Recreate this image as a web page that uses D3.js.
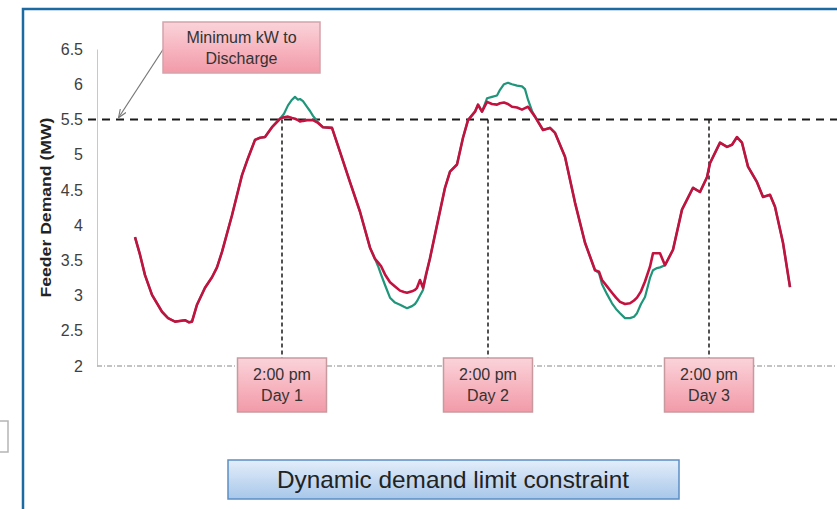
<!DOCTYPE html>
<html>
<head>
<meta charset="utf-8">
<script src="https://cdn.jsdelivr.net/npm/d3@7"></script>
<style>
  html, body { margin: 0; padding: 0; background: #fff; }
  svg { display: block; font-family: "Liberation Sans", Arial, sans-serif; }
</style>
</head>
<body>
<svg id="chart" width="837" height="509"></svg>
<script>
// Feeder demand over three days: original load vs. load with storage dispatch
const yTicks = [2, 2.5, 3, 3.5, 4, 4.5, 5, 5.5, 6, 6.5];
const yTickLabels = ["2", "2.5", "3", "3.5", "4", "4.5", "5", "5.5", "6", "6.5"];

// sample index along the time axis
const sampleIdx = [
  38, 43, 48, 55, 65, 71, 78, 83, 88, 92, 95, 100, 108, 115, 120, 125, 135, 145, 151, 158,
  163, 168, 175, 183, 187, 191, 195, 198, 201, 203, 206, 210, 213, 216, 221, 226, 235, 243, 253, 263,
  273, 278, 281, 284, 288, 293, 298, 303, 307, 310, 315, 318, 320, 323, 326, 329, 333, 340, 348, 353,
  360, 366, 371, 378, 381, 385, 390, 395, 400, 403, 407, 411, 415, 420, 425, 428, 431, 435, 438, 446,
  453, 458, 468, 478, 488, 498, 502, 505, 510, 515, 519, 523, 528, 533, 537, 540, 544, 548, 553, 556,
  560, 563, 568, 576, 585, 596, 603, 610, 613, 623, 630, 635, 640, 645, 651, 660, 666, 673, 678, 686,
  693
];

// demand with storage limiting the peak (MW)
const limitedMW = [
  3.83, 3.58, 3.29, 3.01, 2.77, 2.68, 2.63, 2.64, 2.65, 2.62, 2.63, 2.87, 3.11, 3.26, 3.40, 3.62, 4.14, 4.71, 4.95, 5.21,
  5.24, 5.25, 5.39, 5.51, 5.53, 5.54, 5.52, 5.51, 5.49, 5.47, 5.48, 5.49, 5.49, 5.49, 5.45, 5.39, 5.38, 5.04, 4.61, 4.19,
  3.68, 3.52, 3.47, 3.42, 3.30, 3.19, 3.13, 3.07, 3.05, 3.04, 3.06, 3.08, 3.11, 3.22, 3.11, 3.30, 3.53, 4.00, 4.53, 4.76,
  4.86, 5.24, 5.49, 5.61, 5.71, 5.61, 5.75, 5.72, 5.71, 5.73, 5.74, 5.72, 5.68, 5.67, 5.64, 5.66, 5.68, 5.60, 5.54, 5.35,
  5.38, 5.31, 4.97, 4.32, 3.75, 3.36, 3.34, 3.22, 3.13, 3.04, 2.97, 2.91, 2.88, 2.89, 2.93, 2.97, 3.06, 3.20, 3.41, 3.60,
  3.60, 3.60, 3.43, 3.65, 4.22, 4.53, 4.47, 4.68, 4.88, 5.17, 5.11, 5.14, 5.25, 5.17, 4.83, 4.61, 4.40, 4.43, 4.26, 3.75,
  3.12
];

// original feeder demand without storage (MW)
const baselineMW = [
  3.83, 3.58, 3.29, 3.01, 2.77, 2.68, 2.63, 2.64, 2.65, 2.62, 2.63, 2.87, 3.11, 3.26, 3.40, 3.62, 4.14, 4.71, 4.95, 5.21,
  5.24, 5.25, 5.39, 5.51, 5.58, 5.70, 5.78, 5.82, 5.78, 5.79, 5.76, 5.68, 5.62, 5.55, 5.46, 5.39, 5.38, 5.04, 4.61, 4.19,
  3.68, 3.52, 3.42, 3.30, 3.15, 2.97, 2.90, 2.87, 2.84, 2.82, 2.85, 2.88, 2.92, 3.00, 3.08, 3.28, 3.53, 4.00, 4.53, 4.76,
  4.86, 5.24, 5.49, 5.61, 5.71, 5.61, 5.80, 5.82, 5.84, 5.92, 6.00, 6.02, 6.00, 5.98, 5.97, 5.93, 5.78, 5.62, 5.54, 5.35,
  5.38, 5.31, 4.97, 4.32, 3.75, 3.36, 3.32, 3.16, 3.02, 2.89, 2.81, 2.75, 2.68, 2.68, 2.70, 2.75, 2.88, 2.98, 3.25, 3.36,
  3.39, 3.40, 3.43, 3.65, 4.22, 4.53, 4.47, 4.68, 4.88, 5.17, 5.11, 5.14, 5.25, 5.17, 4.83, 4.61, 4.40, 4.43, 4.26, 3.75,
  3.12
];

const dischargeThreshold = 5.5;
const markerSamples = [185, 391, 612];
const markerLabels = [["2:00 pm", "Day 1"], ["2:00 pm", "Day 2"], ["2:00 pm", "Day 3"]];
const calloutLines = ["Minimum kW to", "Discharge"];
const captionText = "Dynamic demand limit constraint";
const yTitle = "Feeder Demand (MW)";

const svg = d3.select("#chart");

const x = d3.scaleLinear().domain([0, 740]).range([97, 837]);
const y = d3.scaleLinear().domain([2, 6.5]).range([366, 49]);

// gradients for the annotation boxes
const defs = svg.append("defs");
const pink = defs.append("linearGradient").attr("id", "pinkFill").attr("x1", 0).attr("y1", 0).attr("x2", 0).attr("y2", 1);
pink.append("stop").attr("offset", "0%").attr("stop-color", "#fbd3da");
pink.append("stop").attr("offset", "100%").attr("stop-color", "#f29aa8");
const blue = defs.append("linearGradient").attr("id", "blueFill").attr("x1", 0).attr("y1", 0).attr("x2", 0).attr("y2", 1);
blue.append("stop").attr("offset", "0%").attr("stop-color", "#e3eefa");
blue.append("stop").attr("offset", "100%").attr("stop-color", "#a8c7ea");
defs.append("marker").attr("id", "arrowHead")
  .attr("viewBox", "0 0 10 10").attr("refX", 9).attr("refY", 5)
  .attr("markerWidth", 7).attr("markerHeight", 7).attr("orient", "auto")
  .append("path").attr("d", "M0,1 L10,5 L0,9").attr("fill", "none")
  .attr("stroke", "#777").attr("stroke-width", 1.3);

// outer slide frame
svg.append("rect").attr("x", 23).attr("y", 9).attr("width", 830).attr("height", 520)
  .attr("fill", "#fff").attr("stroke", "#1c6aa2").attr("stroke-width", 2.5);
// edge of a neighbouring box
svg.append("rect").attr("x", -10).attr("y", 421).attr("width", 18).attr("height", 31)
  .attr("fill", "#fff").attr("stroke", "#b5b5b5").attr("stroke-width", 1.5);

// y axis
const yAxis = d3.axisLeft(y).tickValues(yTicks)
  .tickFormat((d, i) => yTickLabels[i]).tickSize(0).tickPadding(14);
const gy = svg.append("g").attr("transform", `translate(${x(0)},0)`).call(yAxis);
gy.select(".domain").attr("stroke", "#c8c8c8").attr("stroke-width", 1);
gy.selectAll("text").attr("font-size", 16).attr("fill", "#404040")
  .attr("font-family", "'Liberation Sans', Arial, sans-serif");

// x axis baseline (dotted)
svg.append("line").attr("x1", x(0)).attr("x2", x(740)).attr("y1", y(2)).attr("y2", y(2))
  .attr("stroke", "#b0b0b0").attr("stroke-width", 1.5).attr("stroke-dasharray", "5,2,1,2");

// y title
svg.append("text").attr("transform", `translate(51,${(y(2) + y(6.5)) / 2 + 0}) rotate(-90)`)
  .attr("text-anchor", "middle").attr("font-size", 15).attr("font-weight", "bold")
  .attr("fill", "#222").attr("textLength", 180).attr("lengthAdjust", "spacingAndGlyphs")
  .text(yTitle);

// threshold line
svg.append("line").attr("x1", 88).attr("x2", x(740)).attr("y1", y(dischargeThreshold)).attr("y2", y(dischargeThreshold))
  .attr("stroke", "#1a1a1a").attr("stroke-width", 2).attr("stroke-dasharray", "8,6");

// vertical markers at 2:00 pm
svg.selectAll(".marker").data(markerSamples).join("line").attr("class", "marker")
  .attr("x1", d => x(d)).attr("x2", d => x(d))
  .attr("y1", y(dischargeThreshold)).attr("y2", 358)
  .attr("stroke", "#1a1a1a").attr("stroke-width", 1.5).attr("stroke-dasharray", "4,3");

// demand curves
const pts = sampleIdx.map((s, i) => ({ s, lim: limitedMW[i], base: baselineMW[i] }));
const lineBase = d3.line().x(d => x(d.s)).y(d => y(d.base));
const lineLim = d3.line().x(d => x(d.s)).y(d => y(d.lim));
svg.append("path").datum(pts).attr("d", lineBase).attr("fill", "none")
  .attr("stroke", "#1f957a").attr("stroke-width", 2.2).attr("stroke-linejoin", "round");
svg.append("path").datum(pts).attr("d", lineLim).attr("fill", "none")
  .attr("stroke", "#c3123f").attr("stroke-width", 2.6).attr("stroke-linejoin", "round");

// callout for the threshold
svg.append("line").attr("x1", 164).attr("y1", 48).attr("x2", 119).attr("y2", 117)
  .attr("stroke", "#777").attr("stroke-width", 1.2).attr("marker-end", "url(#arrowHead)");
svg.append("rect").attr("x", 163).attr("y", 22).attr("width", 157).attr("height", 51)
  .attr("fill", "url(#pinkFill)").attr("stroke", "#d4a3ab").attr("stroke-width", 1.5);
svg.selectAll(".callout").data(calloutLines).join("text").attr("class", "callout")
  .attr("x", 241.5).attr("y", (d, i) => 43 + i * 21).attr("text-anchor", "middle")
  .attr("font-size", 16).attr("fill", "#333").text(d => d);

// 2:00 pm day labels
const dayG = svg.selectAll(".day").data(markerSamples).join("g").attr("class", "day")
  .attr("transform", d => `translate(${x(d)},358)`);
dayG.append("rect").attr("x", -44.5).attr("y", 0).attr("width", 89).attr("height", 54)
  .attr("fill", "url(#pinkFill)").attr("stroke", "#c79aa0").attr("stroke-width", 1.5);
dayG.selectAll("text").data((d, i) => markerLabels[i]).join("text")
  .attr("x", 0).attr("y", (d, i) => 22 + i * 21).attr("text-anchor", "middle")
  .attr("font-size", 16).attr("fill", "#333").text(d => d);

// caption box
svg.append("rect").attr("x", 228).attr("y", 460).attr("width", 451).attr("height", 39)
  .attr("fill", "url(#blueFill)").attr("stroke", "#5b8ec4").attr("stroke-width", 1.5);
svg.append("text").attr("x", 453).attr("y", 488).attr("text-anchor", "middle")
  .attr("font-size", 24).attr("fill", "#222")
  .attr("textLength", 352).attr("lengthAdjust", "spacingAndGlyphs").text(captionText);
</script>
</body>
</html>
